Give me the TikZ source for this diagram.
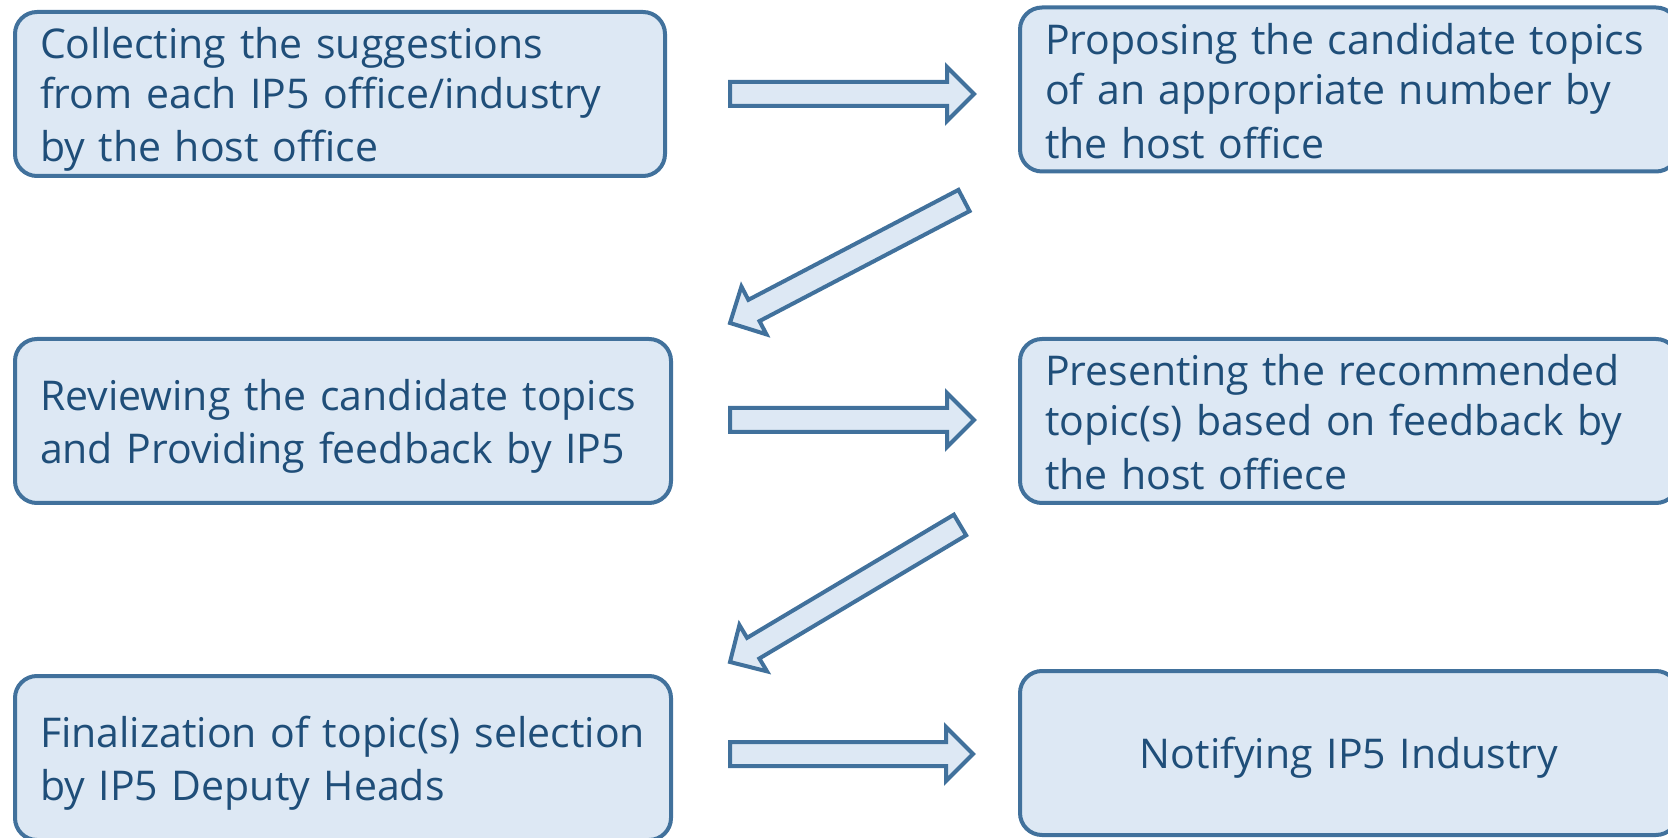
\documentclass[tikz,border=0pt]{standalone}
\usepackage{fontspec}
\setmainfont{Open Sans}
\usetikzlibrary{calc}

\definecolor{boxfill}{HTML}{DDE8F4}
\definecolor{boxline}{HTML}{41719C}
\definecolor{boxtext}{HTML}{1F4E79}

% line strut, a little low like the slide text
\newcommand{\linestrut}{\rule[-4.1pt]{0pt}{25pt}}

\tikzset{
  stepbox/.style={draw=boxline, fill=boxfill, line width=2pt, rounded corners=11pt,
    text=boxtext, align=left, inner xsep=12.5pt, inner ysep=2pt,
    minimum height=82pt, font=\fontsize{20.5}{25}\selectfont,
    execute at begin node=\linestrut, execute at end node=\linestrut},
  flowarrow/.style={draw=boxline, fill=boxfill, line width=2pt, line join=miter}
}

% block arrow from #1 to #2
\newcommand{\blockarrow}[2]{%
  \draw[flowarrow] let \p1=(#1), \p2=(#2),
      \n1={atan2(\y2-\y1,\x2-\x1)}, \n2={veclen(\x2-\x1,\y2-\y1)} in
    [shift={(\p1)}, rotate=\n1]
    (0pt,-6pt) -- (\n2*1pt-13.5pt,-6pt) -- (\n2*1pt-13.5pt,-13.5pt) -- (\n2*1pt,0pt)
    -- (\n2*1pt-13.5pt,13.5pt) -- (\n2*1pt-13.5pt,6pt) -- (0pt,6pt) -- cycle;%
}

\begin{document}
\begin{tikzpicture}[x=0.5pt,y=-0.5pt]
  \useasboundingbox (0,0) rectangle (1668,838);

  % Left column
  \node [stepbox, minimum width=325pt, text width=300pt] (collect) at (340,94)
    {Collecting the suggestions\\from each IP5 office/industry\\by the host office};
  \node [stepbox, minimum width=328pt, text width=303pt] (review) at (343,421)
    {Reviewing the candidate topics\\and Providing feedback by IP5};
  \node [stepbox, minimum width=328pt, text width=303pt] (final) at (343,758)
    {Finalization of topic(s) selection\\by IP5 Deputy Heads};

  % Right column
  \node [stepbox, minimum width=329pt, text width=304pt] (propose) at (1349,89.5)
    {Proposing the candidate topics\\of an appropriate number by\\the host office};
  \node [stepbox, minimum width=329pt, text width=304pt] (present) at (1349,421)
    {Presenting the recommended\\topic(s) based on feedback by\\the host offiece};
  \node [stepbox, minimum width=329pt, text width=304pt, align=center] (notify) at (1349,753)
    {Notifying IP5 Industry};

  % Arrow ends
  \coordinate (a1s) at ($(collect.east)+(63,0)$);
  \coordinate (a1e) at ($(collect.east)+(307,0)$);
  \coordinate (a2s) at ($(review.east)+(57,-1)$);
  \coordinate (a2e) at ($(review.east)+(301,-1)$);
  \coordinate (a3s) at ($(notify.west)+(-288,1)$);
  \coordinate (a3e) at ($(notify.west)+(-45,1)$);
  \coordinate (d1s) at ($(propose.south)+(-385,27)$);
  \coordinate (d1e) at ($(review.north)+(387,-14)$);
  \coordinate (d2s) at ($(present.south)+(-389,20)$);
  \coordinate (d2e) at ($(final.north)+(387,-12)$);

  % Arrows
  \blockarrow{a1s}{a1e}
  \blockarrow{d1s}{d1e}
  \blockarrow{a2s}{a2e}
  \blockarrow{d2s}{d2e}
  \blockarrow{a3s}{a3e}
\end{tikzpicture}
\end{document}
